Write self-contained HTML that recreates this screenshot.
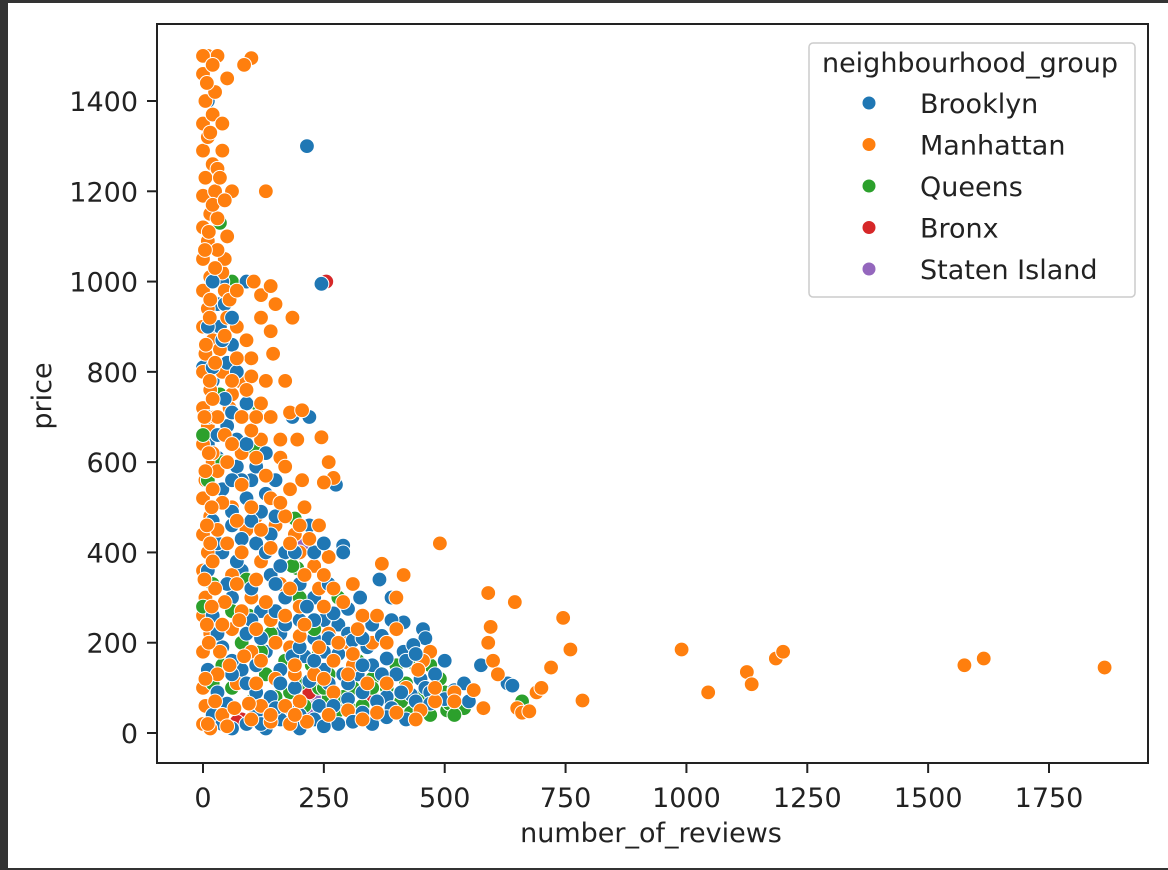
<!DOCTYPE html>
<html><head><meta charset="utf-8"><style>
html,body{margin:0;padding:0;background:#333;}
#wrap{position:absolute;left:8px;top:3px;width:1160px;height:865px;background:#fff;}
svg{position:absolute;left:0;top:0;}
text{font-family:"DejaVu Sans","Liberation Sans",sans-serif;fill:#222;}
</style></head><body>
<div id="wrap"></div>
<svg id="chart" width="1168" height="870"></svg>
<script>
const xTicks=[0,250,500,750,1000,1250,1500,1750];
const yTicks=[0,200,400,600,800,1000,1200,1400];
const groupNames=["Brooklyn","Manhattan","Queens","Bronx","Staten Island"];
const groupColors=["#1f77b4","#ff7f0e","#2ca02c","#d62728","#9467bd"];
const brooklyn=[[215,1300],[10,1400],[245,995],[40,1000],[90,1000],[30,950],[45,950],[20,900],[35,900],[10,850],[0,810],[60,860],[20,780],[50,680],[10,640],[30,610],[70,590],[100,560],[130,530],[90,520],[40,540],[20,470],[60,460],[110,420],[170,400],[40,400],[10,360],[80,360],[140,350],[220,700],[185,700],[275,550],[220,460],[290,415],[290,400],[365,340],[390,300],[325,300],[300,275],[230,300],[170,300],[60,300],[20,260],[120,270],[200,250],[280,240],[250,250],[90,220],[160,220],[230,210],[300,220],[350,240],[415,245],[455,230],[460,210],[40,190],[130,180],[210,170],[280,175],[340,190],[380,165],[415,180],[435,195],[500,160],[575,150],[10,140],[80,140],[160,140],[250,140],[320,130],[350,150],[400,130],[450,120],[30,90],[110,90],[190,100],[260,110],[330,90],[380,80],[430,85],[440,70],[460,100],[470,90],[520,95],[540,110],[630,110],[640,105],[20,40],[90,20],[160,30],[240,60],[300,75],[360,70],[500,75],[60,10],[130,10],[200,40],[550,70],
[40,20],[110,45],[180,55],[230,30],[280,20],[330,45],[390,55],[420,30],[470,65],[50,65],[140,80],[220,115],[290,130],[370,130],[420,160],[480,130],[60,160],[110,150],[185,170],[250,180],[310,205],[370,215],[440,175],[30,220],[100,250],[150,270],[215,280],[270,265],[50,330],[100,320],[150,330],[200,330],[260,330],[30,420],[80,430],[140,440],[190,400],[60,490],[120,490],[80,560],[30,660],[70,650],[10,700],[45,740],[10,900],[50,820],
[120,20],[150,55],[200,10],[250,15],[270,60],[310,25],[350,20],[380,35],[410,90],[330,150],[300,110],[230,160],[160,110],[90,110],[60,130],[200,190],[260,210],[330,210],[390,250],[120,210],[170,240],[230,250],[70,380],[130,400],[160,370],[230,400],[250,420],[100,470],[150,480],[60,560],[110,590],[150,560],[90,640],[130,620],[60,710],[90,730],[20,810],[70,800],[40,870],[60,920],[20,1000]];
const manhattan=[[0,20],[5,60],[0,100],[10,140],[0,180],[15,220],[0,260],[5,300],[20,330],[0,360],[10,400],[0,440],[15,480],[0,520],[5,560],[20,600],[0,640],[10,680],[0,720],[15,760],[0,800],[5,840],[20,870],[0,900],[10,940],[0,980],[15,1010],[0,1050],[10,1090],[0,1120],[15,1150],[0,1190],[25,1200],[5,1230],[20,1260],[0,1290],[30,1250],[10,1320],[0,1350],[20,1370],[5,1400],[25,1420],[0,1460],[10,1500],[30,1500],[0,1500],[30,1140],[35,1230],[40,1020],[45,1050],[30,1070],[45,980],[35,850],[50,920],[60,750],[55,720],[40,800],[70,900],[100,1495],[85,1480],[60,1200],[130,1200],[105,1000],[120,970],[140,990],[150,950],[185,920],[120,920],[140,890],[90,870],[145,840],[100,830],[170,780],[75,780],[180,710],[140,700],[205,715],[245,655],[195,650],[120,650],[160,610],[80,620],[260,600],[270,565],[205,560],[250,555],[180,540],[140,520],[110,480],[60,500],[210,500],[190,440],[90,450],[150,460],[200,400],[260,390],[230,370],[120,380],[60,350],[160,330],[240,320],[100,300],[330,260],[200,280],[140,250],[60,230],[260,220],[300,200],[180,190],[100,180],[370,375],[415,350],[400,300],[490,420],[470,180],[455,160],[445,140],[350,200],[310,150],[230,130],[150,120],[70,110],[380,110],[270,90],[200,70],[120,60],[40,40],[300,50],[420,100],[560,95],[520,90],[580,55],[600,160],[610,130],[590,200],[595,235],[590,310],[645,290],[650,55],[660,45],[675,48],[690,90],[700,100],[720,145],[745,255],[760,185],[785,72],[990,185],[1045,90],[1125,135],[1135,108],[1185,165],[1200,180],[1575,150],[1615,165],[1865,145],[35,180],[80,270],[50,420],[30,580],[45,660],[25,700],
[15,10],[50,15],[100,30],[140,25],[180,20],[25,70],[65,55],[95,65],[170,60],[215,25],[260,40],[330,30],[400,45],[450,50],[480,70],[340,110],[250,120],[190,130],[110,110],
[30,130],[55,150],[85,170],[120,160],[150,200],[200,215],[240,190],[280,200],[320,230],[360,260],[40,240],[75,250],[110,230],[170,260],[210,240],[250,280],[290,290],[45,290],[130,290],[400,230],[380,200],[310,175],[270,160],[190,150],
[25,320],[70,330],[110,340],[180,320],[210,350],[250,350],[20,380],[80,400],[140,410],[180,420],[30,450],[70,470],[120,450],[170,480],[40,510],[100,500],[160,510],[20,540],[80,550],[130,570],[170,590],[50,600],[110,610],
[20,620],[60,640],[100,670],[30,700],[80,700],[120,730],[20,740],[60,780],[100,790],[25,820],[70,830],[45,880],[15,960],[55,960],[25,1030],
[10,20],[5,120],[12,200],[8,240],[18,280],[3,340],[15,420],[8,460],[18,500],[5,580],[12,620],[3,700],[14,780],[6,860],[14,920],[4,1070],[12,1110],[20,1170],[15,1330],[8,1440],[20,1480],
[140,40],[190,40],[360,45],[440,30],[480,100],[520,70],[300,130],[270,320],[310,330],[220,430],[240,460],[200,460],[160,650],[110,700],[90,760],[130,780],[70,980],[50,1100],[45,1180],[40,1290],[40,1350],[50,1450]];
const queens=[[35,1130],[60,1000],[35,750],[115,725],[105,630],[190,475],[195,365],[185,370],[280,300],[225,150],[310,100],[280,50],[310,50],[350,120],[400,150],[440,150],[470,150],[505,50],[470,40],[430,45],[540,55],[660,70],[510,65],[60,100],[20,110],[80,200],[10,560],[0,660],[20,330],[150,80],[240,180],[170,160],[120,40],[200,110],[260,80],[330,60],[380,100],[420,110],[0,280],[95,260],
[30,50],[100,70],[180,90],[240,100],[290,80],[350,100],[410,70],[450,80],[500,90],[130,130],[260,130],[320,160],[140,220],[60,270],[90,340],[40,600],[120,180],
[210,60],[250,100],[360,40],[520,40],[490,120],[230,230],[200,300],[40,150]];
const bronx=[[255,1000],[350,80],[80,30],[70,25],[160,40],[220,90]];
const statenIsland=[[205,50],[230,80],[225,55],[210,420]];
const groups=[brooklyn,manhattan,queens,bronx,statenIsland];

const NS="http://www.w3.org/2000/svg";
const svg=document.getElementById('chart');
const L=157,R=1148,T=24,B=763;
const x0=203,xPer=(1049-203)/1750;
const y0=733,yPer=(733-101)/1400;
const sx=v=>x0+v*xPer, sy=v=>y0-v*yPer;
function mk(tag,attrs,parent){const e=document.createElementNS(NS,tag);for(const k in attrs)e.setAttribute(k,attrs[k]);(parent||svg).appendChild(e);return e;}

const pts=mk('g',{});


let maxLen=Math.max(...groups.map(g=>g.length));
for(let i=0;i<maxLen;i++){
  for(let g=0;g<groups.length;g++){
    const p=groups[g][i]; if(!p) continue;
    const c=mk('circle',{cx:sx(p[0]),cy:sy(p[1]),r:7.4,fill:groupColors[g],stroke:'#fff','stroke-width':1},pts);
    
    
  }
}
const frame=mk('rect',{x:L,y:T,width:R-L,height:B-T,fill:'none',stroke:'#222','stroke-width':2});



xTicks.forEach(v=>{
  const t=mk('line',{x1:sx(v),x2:sx(v),y1:B,y2:B+10,stroke:'#222','stroke-width':2});
  
  
  const l=mk('text',{x:sx(v),y:807,'font-size':27,'text-anchor':'middle'});
  l.textContent=v;
  
  
});
yTicks.forEach(v=>{
  const t=mk('line',{x1:L-10,x2:L,y1:sy(v),y2:sy(v),stroke:'#222','stroke-width':2});
  
  
  const l=mk('text',{x:138,y:sy(v)+10,'font-size':27,'text-anchor':'end'});
  l.textContent=v;
  
  
});
const xl=mk('text',{x:651,y:842,'font-size':27,'text-anchor':'middle'});
xl.textContent='number_of_reviews';


const yl=mk('text',{x:0,y:0,'font-size':27,'text-anchor':'middle',transform:'translate(51,396) rotate(-90)'});
yl.textContent='price';



const lg=mk('g',{});


mk('rect',{x:809,y:43,width:326,height:254,rx:4,fill:'#fff','fill-opacity':0.8,stroke:'#ccc','stroke-width':1.5},lg);
const lt=mk('text',{x:970,y:72,'font-size':27,'text-anchor':'middle'},lg);
lt.textContent='neighbourhood_group';


groupNames.forEach((n,i)=>{
  const y=103+i*41.5;
  const e=mk('g',{},lg);
  
  
  mk('circle',{cx:869,cy:y,r:7,fill:groupColors[i],stroke:'#fff','stroke-width':1},e);
  const t=mk('text',{x:920,y:y+10,'font-size':27},e);
  t.textContent=n;
});
</script>
</body></html>
